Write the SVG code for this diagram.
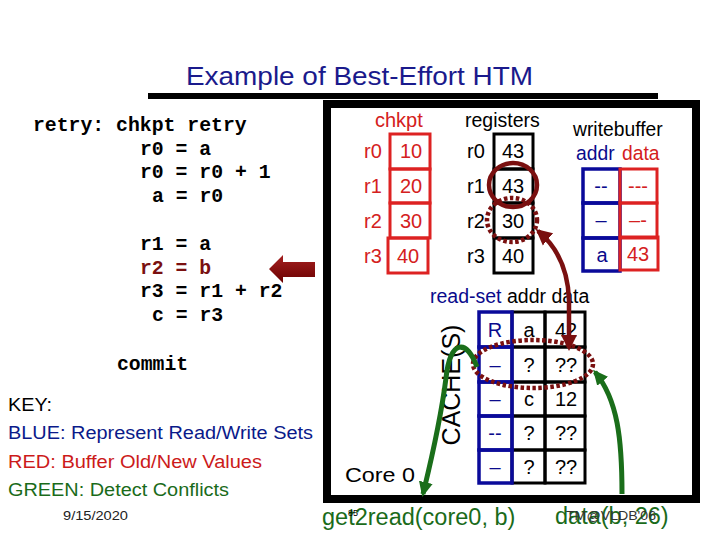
<svg xmlns="http://www.w3.org/2000/svg" width="720" height="540" viewBox="0 0 720 540">
<defs>
<style>
.sans{font-family:"Liberation Sans",Arial,sans-serif}
.mono{font-family:"Liberation Mono","Courier New",monospace;font-weight:bold;font-size:19.8px;fill:#000}
.v{font-family:"Liberation Sans",Arial,sans-serif;font-size:20px;text-anchor:middle}
.lbl{font-family:"Liberation Sans",Arial,sans-serif;font-size:20px}
.red{fill:#d42020}
.blue{fill:#0a0a8c}
.blk{fill:#000}
.rbox{fill:none;stroke:#dd2222;stroke-width:3}
.bbox{fill:none;stroke:#0a0a9a;stroke-width:3.5}
.kbox{fill:none;stroke:#000;stroke-width:3}
.green{fill:none;stroke:#1a6e1a;stroke-width:5}
.dred{fill:none;stroke:#7a1010;stroke-width:4.5}
.dot{fill:none;stroke:#7a1010;stroke-width:4.5;stroke-dasharray:3.5 2.5}
</style>
<linearGradient id="ag" x1="0" y1="0" x2="0" y2="1">
<stop offset="0" stop-color="#a52020"/>
<stop offset="1" stop-color="#6a0000"/>
</linearGradient>
<marker id="gh" markerUnits="userSpaceOnUse" markerWidth="16" markerHeight="16" refX="12" refY="8" orient="auto">
<path d="M0,1 L15,8 L0,15 z" fill="#1a6e1a"/>
</marker>
<marker id="rh" markerUnits="userSpaceOnUse" markerWidth="18" markerHeight="18" refX="13" refY="9" orient="auto-start-reverse">
<path d="M0,1 L16,9 L0,17 z" fill="#7a1010"/>
</marker>
</defs>
<rect width="720" height="540" fill="#fff"/>

<g id="title">
<text class="sans" x="186" y="85" font-size="26.5" fill="#1a1a8c" textLength="347" lengthAdjust="spacingAndGlyphs">Example of Best-Effort HTM</text>
<rect x="148" y="93" width="510" height="6" fill="#000"/>
</g>

<g id="code">
<text class="mono" x="33" y="131">retry: chkpt retry</text>
<text class="mono" x="140" y="155">r0 = a</text>
<text class="mono" x="140" y="178">r0 = r0 + 1</text>
<text class="mono" x="152" y="202">a = r0</text>
<text class="mono" x="140" y="250">r1 = a</text>
<text class="mono" x="140" y="274" style="fill:#7a1010">r2 = b</text>
<text class="mono" x="140" y="297">r3 = r1 + r2</text>
<text class="mono" x="152" y="321">c = r3</text>
<text class="mono" x="117" y="370">commit</text>
</g>

<g id="pointer">
<polygon points="269,269 283,255 283,262 315,262 315,277 283,277 283,283" fill="url(#ag)"/>
</g>

<g id="key" class="sans" font-size="18">
<text x="8" y="411" fill="#000" textLength="44" lengthAdjust="spacingAndGlyphs">KEY:</text>
<text x="8" y="439" fill="#0a1a8a" textLength="305" lengthAdjust="spacingAndGlyphs">BLUE: Represent Read/Write Sets</text>
<text x="8" y="468" fill="#cc1a1a" textLength="254" lengthAdjust="spacingAndGlyphs">RED: Buffer Old/New Values</text>
<text x="8" y="496" fill="#1a6b1a" textLength="221" lengthAdjust="spacingAndGlyphs">GREEN: Detect Conflicts</text>
<text x="63" y="520" font-size="12" fill="#222" textLength="65" lengthAdjust="spacingAndGlyphs">9/15/2020</text>
</g>

<g id="core">
<rect x="327" y="104" width="369" height="395" fill="none" stroke="#000" stroke-width="8"/>
<text class="sans" x="345" y="482" font-size="21" fill="#000" textLength="70" lengthAdjust="spacingAndGlyphs">Core 0</text>
</g>

<g id="chkpt">
<text class="sans red" x="375" y="127" font-size="20">chkpt</text>
<rect class="rbox" x="390" y="134" width="40" height="35"/>
<rect class="rbox" x="390" y="169" width="40" height="34"/>
<rect class="rbox" x="390" y="203" width="40" height="35"/>
<rect class="rbox" x="388" y="238" width="40" height="35"/>
<text class="lbl red" x="364" y="158">r0</text>
<text class="lbl red" x="364" y="193">r1</text>
<text class="lbl red" x="364" y="228">r2</text>
<text class="lbl red" x="364" y="263">r3</text>
<text class="v red" x="411" y="158">10</text>
<text class="v red" x="411" y="193">20</text>
<text class="v red" x="411" y="228">30</text>
<text class="v red" x="408" y="263">40</text>
</g>

<g id="registers">
<text class="sans blk" x="465" y="127" font-size="19.5">registers</text>
<rect class="kbox" x="494" y="134" width="39" height="35"/>
<rect class="kbox" x="494" y="169" width="39" height="34"/>
<rect class="kbox" x="494" y="203" width="39" height="35"/>
<rect class="kbox" x="494" y="238" width="39" height="35"/>
<text class="lbl blk" x="467" y="158">r0</text>
<text class="lbl blk" x="467" y="193">r1</text>
<text class="lbl blk" x="467" y="228">r2</text>
<text class="lbl blk" x="467" y="263">r3</text>
<text class="v blk" x="513" y="158">43</text>
<text class="v blk" x="513" y="193">43</text>
<text class="v blk" x="513" y="228">30</text>
<text class="v blk" x="513" y="263">40</text>
<ellipse class="dred" cx="513" cy="185" rx="24" ry="22"/>
<ellipse class="dot" cx="512" cy="220" rx="25" ry="22"/>
</g>

<g id="writebuffer">
<text class="sans blk" x="573" y="136" font-size="19.3">writebuffer</text>
<text class="sans blue" x="576" y="160" font-size="19.3">addr</text>
<text class="sans red" x="622" y="160" font-size="19.3">data</text>
<rect class="bbox" x="583" y="169" width="37" height="34"/>
<rect class="bbox" x="583" y="203" width="37" height="35"/>
<rect class="bbox" x="583" y="238" width="37" height="33"/>
<rect class="rbox" x="620" y="169" width="37" height="34"/>
<rect class="rbox" x="620" y="203" width="37" height="35"/>
<rect class="rbox" x="620" y="237" width="38" height="33"/>
<text class="v blue" x="601" y="193">--</text>
<text class="v red" x="638" y="193">---</text>
<text class="v blue" x="601" y="227">–</text>
<text class="v red" x="638" y="227">–-</text>
<text class="v blue" x="602" y="262">a</text>
<text class="v red" x="638" y="261">43</text>
</g>

<g id="readset">
<text class="sans" x="430" y="303" font-size="19.5"><tspan fill="#0a0a8c">read-set</tspan><tspan fill="#000"> addr data</tspan></text>
<text class="sans blk" transform="translate(460,385) rotate(-90)" font-size="25" text-anchor="middle">CACHE(S)</text>
<rect class="kbox" x="512" y="312" width="33" height="35"/>
<rect class="kbox" x="545" y="312" width="40" height="35"/>
<rect class="kbox" x="512" y="347" width="33" height="35"/>
<rect class="kbox" x="545" y="347" width="40" height="35"/>
<rect class="kbox" x="512" y="382" width="33" height="34"/>
<rect class="kbox" x="545" y="382" width="40" height="34"/>
<rect class="kbox" x="512" y="416" width="33" height="34"/>
<rect class="kbox" x="545" y="416" width="40" height="34"/>
<rect class="kbox" x="512" y="450" width="33" height="33"/>
<rect class="kbox" x="545" y="450" width="40" height="33"/>
<rect class="bbox" x="479" y="312" width="33" height="35"/>
<rect class="bbox" x="479" y="347" width="33" height="35"/>
<rect class="bbox" x="479" y="382" width="33" height="34"/>
<rect class="bbox" x="479" y="416" width="33" height="34"/>
<rect class="bbox" x="479" y="450" width="33" height="33"/>
<text class="v blue" x="495" y="337">R</text>
<text class="v blue" x="495" y="372">–</text>
<text class="v blue" x="495" y="406">–</text>
<text class="v blue" x="495" y="440">--</text>
<text class="v blue" x="495" y="474">–</text>
<text class="v blk" x="529" y="337">a</text>
<text class="v blk" x="529" y="372">?</text>
<text class="v blk" x="529" y="406">c</text>
<text class="v blk" x="529" y="440">?</text>
<text class="v blk" x="529" y="474">?</text>
<text class="v blk" x="566" y="337">42</text>
<text class="v blk" x="566" y="372">??</text>
<text class="v blk" x="566" y="406">12</text>
<text class="v blk" x="566" y="440">??</text>
<text class="v blk" x="566" y="474">??</text>
<ellipse class="dot" cx="533" cy="364" rx="60" ry="24"/>
</g>

<g id="connectors">
<path class="dred" d="M538 231 C556 246 568 268 569 300 L569 348" marker-start="url(#rh)" marker-end="url(#rh)"/>
<path class="green" d="M477 367 C466 338 450 340 446 378 C440 425 430 465 423 494" marker-end="url(#gh)"/>
<path class="green" d="M622 494 C622 440 618 400 595 372" marker-end="url(#gh)"/>
</g>

<g id="footer" class="sans">
<text x="322" y="525" font-size="23.5" fill="#1a6b1a">get2read(core0, b)</text>
<text x="348" y="516" font-size="9" fill="#000">85</text>
<text x="555" y="524" font-size="23.5" fill="#1a6b1a">data(b, 26)</text>
<text x="566" y="520" font-size="13" fill="#333" textLength="90" lengthAdjust="spacingAndGlyphs">TM@VLDB'06</text>
</g>
</svg>
